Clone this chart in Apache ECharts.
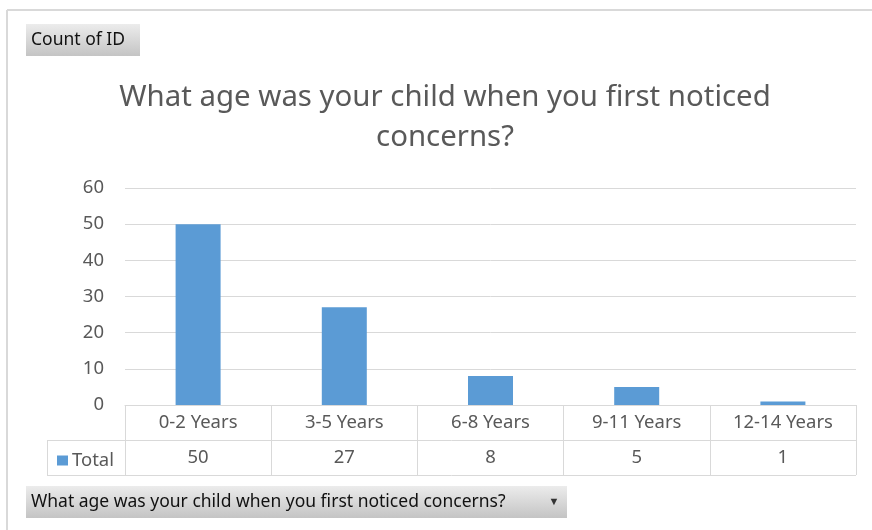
<!DOCTYPE html>
<html>
<head>
<meta charset="utf-8">
<script src="https://cdn.jsdelivr.net/npm/echarts@6/dist/echarts.min.js"></script>
<style>
  html, body { margin: 0; padding: 0; background: #fff; }
  #chart { width: 872px; height: 530px; }
</style>
</head>
<body>
<div id="chart"></div>
<script>
// Age bands and response counts
const categories = ['0-2 Years', '3-5 Years', '6-8 Years', '9-11 Years', '12-14 Years'];
const totals = [50, 27, 8, 5, 1];
const yTicks = { min: 0, max: 60, interval: 10 };
const seriesName = 'Total';
const titleLines = ['What age was your child when you first noticed', 'concerns?'];
const valueFieldLabel = 'Count of ID';
const axisFieldLabel = 'What age was your child when you first noticed concerns?';

const FONT = '"Noto Sans", "Open Sans", sans-serif';
const GRID = { left: 125, right: 16, top: 188, bottom: 125 };
const ROW_H = 35;
const LINE = '#d9d9d9';
const TEXT = '#595959';
const BAR = '#5b9bd5';
const LABEL_SIZE = 18.5;

const chart = echarts.init(document.getElementById('chart'), null, { renderer: 'canvas' });

const buttonFill = new echarts.graphic.LinearGradient(0, 0, 0, 1, [
  { offset: 0, color: '#ececec' },
  { offset: 1, color: '#c4c4c4' }
]);

const tableTop = 530 - GRID.bottom;
const tableRight = 872 - GRID.right;

chart.setOption({
  animation: false,
  backgroundColor: '#fff',
  grid: { left: GRID.left, right: GRID.right, top: GRID.top, bottom: GRID.bottom, containLabel: false },
  legend: {
    data: [seriesName],
    left: 52, top: tableTop + ROW_H + 6,
    icon: 'rect', itemWidth: 11, itemHeight: 10, itemGap: 6,
    textStyle: { fontFamily: FONT, fontSize: LABEL_SIZE, color: TEXT, padding: [0, 0, 0, -1] }
  },
  xAxis: [
    {
      type: 'category',
      data: categories,
      position: 'bottom',
      axisLine: { show: true, lineStyle: { color: LINE, width: 1 } },
      axisTick: { show: true, length: ROW_H * 2, lineStyle: { color: LINE, width: 1 } },
      axisLabel: { margin: 8, fontFamily: FONT, fontSize: LABEL_SIZE, color: TEXT },
      splitLine: { show: false }
    },
    {
      type: 'category',
      data: totals.map(String),
      position: 'bottom',
      offset: ROW_H,
      axisLine: { show: false },
      axisTick: { show: false },
      axisLabel: { margin: 8, fontFamily: FONT, fontSize: LABEL_SIZE, color: TEXT },
      splitLine: { show: false }
    }
  ],
  yAxis: {
    type: 'value',
    min: yTicks.min, max: yTicks.max, interval: yTicks.interval,
    axisLine: { show: false },
    axisTick: { show: false },
    axisLabel: { margin: 21, fontFamily: FONT, fontSize: LABEL_SIZE, color: TEXT },
    splitLine: { lineStyle: { color: LINE, width: 1 } }
  },
  series: [{
    name: seriesName,
    type: 'bar',
    xAxisIndex: 0,
    data: totals,
    barWidth: 45,
    itemStyle: { color: BAR }
  }],
  graphic: [
    // outer frame
    { type: 'line', shape: { x1: 7, y1: 10, x2: 872, y2: 10 }, style: { stroke: LINE, lineWidth: 2 } },
    { type: 'line', shape: { x1: 7, y1: 10, x2: 7, y2: 530 }, style: { stroke: LINE, lineWidth: 2 } },
    // data table frame
    { type: 'line', shape: { x1: 47, y1: tableTop + ROW_H + 0.5, x2: tableRight, y2: tableTop + ROW_H + 0.5 }, style: { stroke: LINE, lineWidth: 1 } },
    { type: 'line', shape: { x1: 47, y1: tableTop + 2 * ROW_H + 0.5, x2: tableRight, y2: tableTop + 2 * ROW_H + 0.5 }, style: { stroke: LINE, lineWidth: 1 } },
    { type: 'line', shape: { x1: 47.5, y1: tableTop + ROW_H, x2: 47.5, y2: tableTop + 2 * ROW_H }, style: { stroke: LINE, lineWidth: 1 } },
    // field buttons
    {
      type: 'group', left: 26, top: 24,
      children: [
        { type: 'rect', shape: { x: 0, y: 0, width: 114, height: 32 }, style: { fill: buttonFill } },
        { type: 'text', x: 5, y: 16, style: { text: valueFieldLabel, fontFamily: FONT, fontSize: 17.5, fill: '#111', verticalAlign: 'middle' } }
      ]
    },
    {
      type: 'group', left: 26, top: 486,
      children: [
        { type: 'rect', shape: { x: 0, y: 0, width: 541, height: 32 }, style: { fill: buttonFill } },
        { type: 'text', x: 5, y: 16, style: { text: axisFieldLabel, fontFamily: FONT, fontSize: 17.5, fill: '#111', verticalAlign: 'middle' } },
        { type: 'text', x: 528, y: 16, style: { text: '\u25BC', fontFamily: FONT, fontSize: 11, fill: '#333', verticalAlign: 'middle', align: 'center' } }
      ]
    },
    // chart title
    {
      type: 'text', x: 445, y: 117.5,
      style: {
        text: titleLines.join('\n'), fontFamily: FONT, fontSize: 29.4, fill: TEXT,
        align: 'center', verticalAlign: 'middle', lineHeight: 40
      }
    }
  ]
});
</script>
</body>
</html>
